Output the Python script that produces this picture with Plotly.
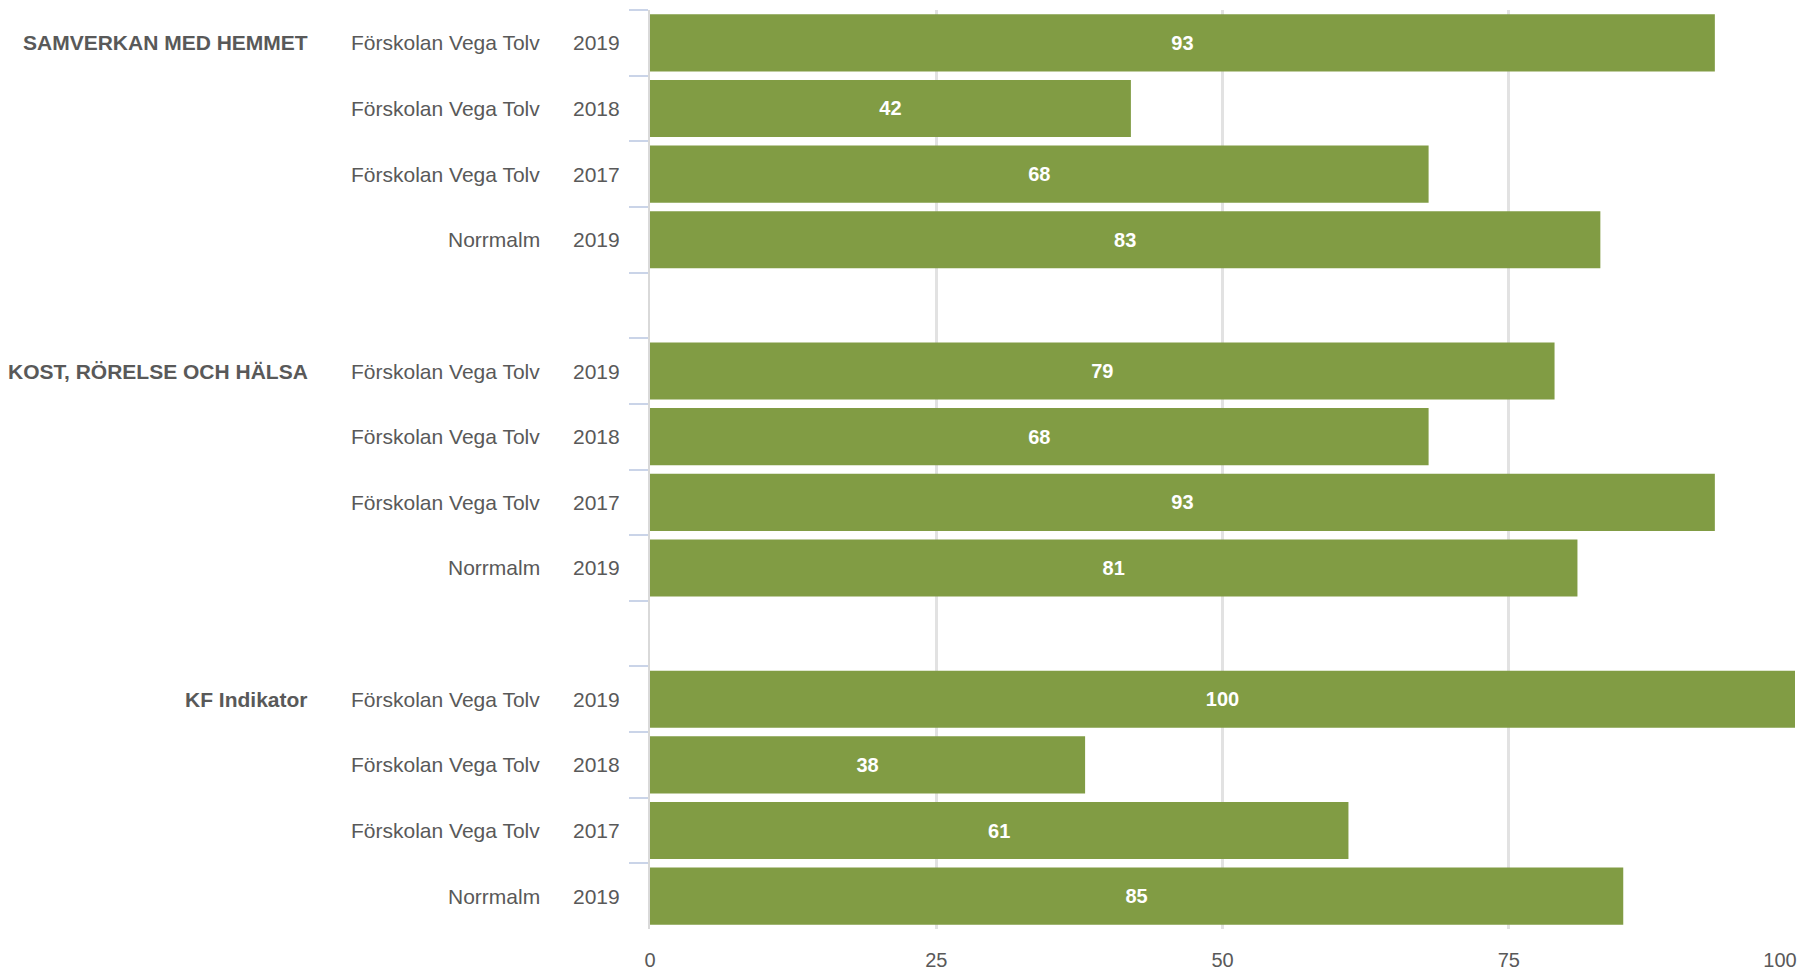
import plotly.graph_objects as go

# ---- data ----
groups = ["SAMVERKAN MED HEMMET", "KOST, RÖRELSE OCH HÄLSA", "KF Indikator"]
units = ["Förskolan Vega Tolv", "Förskolan Vega Tolv", "Förskolan Vega Tolv", "Norrmalm"]
years = ["2019", "2018", "2017", "2019"]
values_samverkan = [93, 42, 68, 83]
values_kost = [79, 68, 93, 81]
values_kf = [100, 38, 61, 85]
x_ticks = [0, 25, 50, 75]      # labelled ticks with gridlines
x_end_tick = [100]             # last tick label, kept inside the figure

group_values = [values_samverkan, values_kost, values_kf]

FONT = "Liberation Sans, Arial, sans-serif"
TXT = "#595959"
BAR = "#819c44"

# build category list (with empty gap rows between groups)
cat_order = []
bar_y, bar_x = [], []
row_labels = []  # (category, unit, year, group or None)
for gi, (g, vals) in enumerate(zip(groups, group_values)):
    for i, (u, yr, v) in enumerate(zip(units, years, vals)):
        c = f"g{gi}r{i}"
        cat_order.append(c)
        bar_y.append(c)
        bar_x.append(v)
        row_labels.append((c, u, yr, g if i == 0 else None))
    if gi < len(groups) - 1:
        cat_order.append(f"gap{gi}")

fig = go.Figure()
# invisible helper trace so the overlay axis (last tick label) is drawn
fig.add_trace(go.Scatter(x=[None], y=[None], xaxis="x2", mode="markers",
                         marker=dict(opacity=0), hoverinfo="skip", showlegend=False))
fig.add_trace(go.Bar(
    x=bar_x, y=bar_y, orientation="h",
    marker=dict(color=BAR, line=dict(width=0)),
    text=[str(v) for v in bar_x],
    textposition="inside", insidetextanchor="middle",
    textfont=dict(family=FONT, size=20, color="white", weight="bold"),
    constraintext="none",
    hoverinfo="skip",
))

annotations = []
for c, u, yr, g in row_labels:
    annotations.append(dict(x=0, xref="paper", y=c, yref="y", text=yr,
                            xanchor="right", xshift=-28, showarrow=False,
                            font=dict(family=FONT, size=21, color=TXT)))
    annotations.append(dict(x=0, xref="paper", y=c, yref="y", text=u,
                            xanchor="right", xshift=-108, showarrow=False,
                            font=dict(family=FONT, size=21, color=TXT)))
    if g:
        annotations.append(dict(x=0, xref="paper", y=c, yref="y", text=f"<b>{g}</b>",
                                xanchor="right", xshift=-340, showarrow=False,
                                font=dict(family=FONT, size=21, color=TXT)))

fig.update_layout(
    width=1810, height=972,
    margin=dict(l=650, r=15, t=10, b=43, autoexpand=False),
    paper_bgcolor="white", plot_bgcolor="white",
    bargap=0.13,
    showlegend=False,
    annotations=annotations,
    xaxis=dict(range=[0, 100], tickvals=x_ticks,
               showgrid=True, gridcolor="#e2e2e2", gridwidth=3,
               zeroline=False, automargin=False,
               showline=False, ticks="", ticklabelstandoff=17,
               tickfont=dict(family=FONT, size=20, color=TXT), fixedrange=True),
    xaxis2=dict(range=[0, 100], overlaying="x", anchor="y", side="bottom",
                tickvals=x_end_tick, automargin=False,
                showgrid=False, zeroline=False, showline=False, ticks="",
                ticklabelstandoff=17, ticklabelshift=-15, ticklabeloverflow="allow",
                tickfont=dict(family=FONT, size=20, color=TXT), fixedrange=True),
    yaxis=dict(categoryorder="array", categoryarray=cat_order, type="category",
               range=[len(cat_order) - 0.5, -0.5], automargin=False,
               showticklabels=False, showgrid=False, zeroline=False,
               showline=True, linecolor="#d9d9d9", linewidth=2,
               ticks="outside", tickson="boundaries", ticklen=19, tickwidth=2,
               tickcolor="#cad4e8", fixedrange=True),
)

fig.write_html("out.html", config={"displayModeBar": False},
               post_script="document.body.style.margin='0';")
